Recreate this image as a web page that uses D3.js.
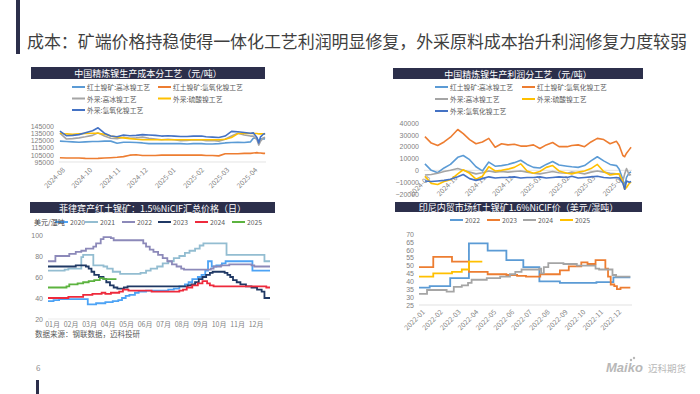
<!DOCTYPE html>
<html>
<head>
<meta charset="utf-8">
<script src="https://cdn.jsdelivr.net/npm/d3@7"></script>
<style>
  body { margin: 0; background: #fff; }
  svg { display: block; font-family: "Noto Sans CJK SC", "Noto Sans", sans-serif; }
</style>
</head>
<body>
<svg id="slide" width="700" height="394"></svg>
<script>
// ---- data: China refined nickel cost / profit by process (yuan/t) ----
const topDates = ['2024-09-02','2024-09-09','2024-09-16','2024-09-23','2024-09-30','2024-10-08','2024-10-14','2024-10-21','2024-10-28','2024-11-04','2024-11-11','2024-11-18','2024-11-25','2024-12-02','2024-12-09','2024-12-16','2024-12-23','2024-12-30','2025-01-06','2025-01-13','2025-01-20','2025-01-27','2025-02-05','2025-02-10','2025-02-17','2025-02-24','2025-03-03','2025-03-10','2025-03-17','2025-03-24','2025-03-31','2025-04-03','2025-04-07','2025-04-09','2025-04-11','2025-04-14','2025-04-16'];
const topTickDates = ['2024-09-01','2024-10-01','2024-11-01','2024-12-01','2025-01-01','2025-02-01','2025-03-01','2025-04-01'];
const topTickLabels = ['2024-08','2024-10','2024-11','2024-12','2025-01','2025-02','2025-03','2025-04'];
const processNames = ['红土镍矿:高冰镍工艺','红土镍矿:氢氧化镍工艺','外采:高冰镍工艺','外采:硫酸镍工艺','外采:氢氧化镍工艺'];

const costLateriteMatte = [124000,123500,123000,122500,123000,123500,123500,124000,124000,121000,122500,122500,122000,121500,120500,120500,120500,120500,120500,120500,120000,120500,120500,120000,120000,120500,121500,122000,122500,122000,123000,128000,128000,124000,127000,127500,127000];
const costLateriteMhp = [101000,100500,100500,100500,100000,99800,100000,100500,101000,101500,102500,104500,105000,104000,104000,104000,104500,104500,104500,104500,104500,104500,104500,104000,104000,103500,106500,106500,106500,107000,107000,107500,108000,107500,107500,107000,107000];
const costBuyMatte = [135000,127000,127500,128500,130000,132000,135500,131000,128000,127500,129500,128000,128500,129500,128000,127000,126000,126500,126000,124500,125000,126000,125500,124500,125000,124000,126500,131000,135000,132500,131000,131000,126000,118500,124000,128500,129500];
const costBuySulfate = [135000,134000,133500,134000,134500,135000,135000,133500,131000,129500,128500,127500,126500,126000,126000,126000,126000,126000,126000,126000,126000,126000,126000,126000,126000,126000,126500,129000,134500,134500,134500,134500,134500,134000,134000,134000,134000];
const costBuyMhp = [138000,131500,132000,133000,135500,138500,142500,135000,131000,130000,132500,131500,132000,133000,132500,132000,131000,131500,131000,130500,130500,131000,131000,130000,129500,129000,131000,137500,137000,136000,135000,135500,129000,121500,130000,133500,134500];

const profitLateriteMatte = [5500,0,-2000,2000,5000,11000,12500,9000,3000,-500,7000,3500,4000,5000,6500,8500,5000,2500,2000,5000,7500,4500,3500,3000,2500,4000,8000,11500,8000,5000,4000,1000,-8000,-13000,-6000,-2000,-1500];
const profitLateriteMhp = [28500,23000,21000,24000,28000,34500,31000,26000,22500,24000,27000,19500,22500,21500,22000,20500,20500,21500,18500,21500,23500,20000,20000,21000,21500,20000,24000,27000,26000,22500,24500,21000,12500,11500,14500,17500,19500];
const profitBuyMatte = [-4000,-3500,-2500,-1000,0,1500,0,-1500,-3000,-2000,-500,-1500,-1000,-1500,-1000,-500,-1500,-2500,-3000,-2000,-1000,-2000,-2500,-1500,-2000,-3000,-1500,-500,-1500,-2500,-3000,-3500,-9000,-3000,1500,-4000,-3500];
const profitBuySulfate = [-5000,-11000,-12000,-9500,-8000,-3000,500,-2500,-7500,-5000,3000,-500,0,1000,2500,5500,-500,-2500,-1000,2500,4000,-500,-2500,-3000,-1500,-500,1500,5000,-1000,-4000,-3000,-3000,-10000,-16000,-14500,-11000,-10000];
const profitBuyMhp = [-9000,-9500,-9000,-8500,-7500,-5500,-3500,-7000,-8500,-7000,-5500,-6500,-6000,-6000,-5500,-6500,-6000,-6000,-5500,-6500,-6000,-5500,-6000,-5000,-6500,-6000,-5500,-5000,-6000,-6500,-6000,-6500,-11000,-16000,-9000,-10000,-9500];

// ---- Philippine laterite 1.5% CIF (USD/wet t), [month, price] ----
const phYears = ['2020','2021','2022','2023','2024','2025'];
const ph2020 = [[1,37],[1.3,38],[1.6,39],[3.15,34],[3.6,35],[4.1,36],[4.5,37],[4.8,38],[5.0,40],[5.2,42],[5.4,43],[5.7,45],[5.9,46],[6.3,47],[7.5,48],[7.8,49],[8.1,51],[8.4,53],[8.6,55],[8.8,58],[9.1,60],[9.3,62],[9.5,66],[9.65,75],[9.85,70],[10.1,71],[10.4,73],[10.6,75],[11.95,75],[12.05,66],[13,66]];
const ph2021 = [[1,66],[1.9,67],[2.1,68],[2.8,79],[2.9,81],[3.45,71],[4.0,70],[4.2,68],[4.5,65],[4.9,63],[6.0,64],[6.3,66],[6.55,68],[6.9,70],[7.2,73],[7.5,75],[7.8,78],[8.1,80],[8.4,83],[8.65,85],[8.95,87],[9.2,90],[9.4,92],[10.65,81],[12.7,75],[13,75]];
const ph2022 = [[1,75],[1.4,80],[2.15,82],[2.5,84],[2.8,85],[3.05,87],[3.45,89],[3.6,92],[3.85,96],[4.0,98],[4.4,97],[4.55,95],[6.15,92],[6.3,89],[6.5,86],[6.7,84],[6.95,81],[7.2,78],[7.45,75],[7.7,72],[7.95,70],[8.2,68],[8.35,67],[9.8,68],[9.95,70],[10.35,71],[10.8,72],[12.0,71],[12.15,70],[13,70]];
const ph2023 = [[1,70],[2.5,71],[3.05,70],[3.2,68],[3.35,65],[3.5,62],[3.75,60],[4.0,58],[4.15,55],[4.35,52],[4.55,50],[4.75,49],[5.1,50],[5.3,51],[8.55,52],[8.75,53],[8.95,55],[9.15,58],[9.35,60],[9.55,62],[9.75,64],[9.9,65],[10.55,64],[10.7,62],[10.85,60],[11.0,57],[11.2,55],[11.4,53],[11.7,51],[12.0,50],[12.3,48],[12.55,46],[12.7,40],[13,40]];
const ph2024 = [[1,40],[2.1,41],[2.9,43],[3.4,44],[3.9,45],[4.1,44],[4.4,45],[4.85,46],[5.05,48],[5.35,47],[6.6,46],[8.1,47],[8.3,48],[8.5,50],[8.8,52],[9.1,54],[9.35,56],[9.6,54],[9.75,52],[9.95,51],[12.8,50],[13,50]];
const ph2025 = [[1,50],[1.5,50],[2.0,51],[2.15,53],[2.6,54],[2.9,55],[3.2,56],[3.5,57],[3.8,59],[4.0,58],[4.7,58]];
const monthLabels = ['01月','02月','03月','04月','05月','06月','07月','08月','09月','10月','11月','12月'];

// ---- Indonesia domestic laterite 1.6% CIF (USD/wet t), [month, price] ----
const idYears = ['2022','2023','2024','2025'];
const id2022 = [[1,36],[1.6,37],[2.75,42],[3.8,64],[4.85,59.5],[5.9,53.5],[6.85,49],[7.75,40],[8.9,39],[10.95,39.5],[11.9,42.5],[12.85,42.5]];
const id2023 = [[1,49],[1.8,55.5],[2.85,52.5],[3.8,46],[4.85,44.5],[5.9,44],[6.5,43.5],[7.0,43],[7.8,44.5],[8.9,47],[9.4,49.5],[10.1,52],[10.45,51],[10.9,53.5],[11.45,48],[11.6,43],[11.75,38],[11.95,37],[12.1,35],[12.3,36],[12.85,36]];
const id2024 = [[1,32],[1.45,34.5],[2.55,33.5],[2.95,36.5],[3.4,37.5],[3.75,39],[3.95,41],[4.8,42],[5.55,43],[6.1,44.5],[6.4,46],[6.75,47.5],[7.75,48],[7.85,45],[8.0,49],[8.25,51.5],[9.1,51],[9.85,50],[10.9,48],[11.1,47.5],[11.85,44],[12.05,43],[12.85,43]];
const id2025 = [[1,43],[1.8,45],[2.85,46],[3.4,47.5],[3.8,52.5],[4.55,52.5]];
const idTickLabels = ['2022-01','2022-02','2022-03','2022-04','2022-05','2022-06','2022-07','2022-08','2022-09','2022-10','2022-11','2022-12'];

// ---- styling ----
const NAVY = '#2c2f4b';
const AXIS_TEXT = '#7f7f7f';
const processColors = ['#5b9bd5', '#ed7d31', '#a5a5a5', '#ffc000', '#4472c4'];
const phColors = ['#4da3f5', '#93bdd1', '#8c89b9', '#1f3864', '#ee2a3c', '#5cb33f'];
const idColors = ['#5b9bd5', '#ed7d31', '#a5a5a5', '#ffc000'];

const svg = d3.select('#slide');
const parseDate = d3.timeParse('%Y-%m-%d');

// ---- slide header / footer ----
svg.append('rect').attr('x', 16).attr('y', 0).attr('width', 4).attr('height', 54).attr('fill', NAVY);
svg.append('text')
  .attr('x', 27).attr('y', 48)
  .attr('font-size', 17).attr('fill', '#3f3f3f')
  .attr('textLength', 660).attr('lengthAdjust', 'spacing')
  .text('成本：矿端价格持稳使得一体化工艺利润明显修复，外采原料成本抬升利润修复力度较弱');

svg.append('text').attr('x', 36).attr('y', 371).attr('font-size', 8).attr('fill', '#8c8c8c').text('6');
svg.append('rect').attr('x', 36).attr('y', 380).attr('width', 3).attr('height', 14).attr('fill', NAVY);

const logo = svg.append('g').attr('fill', '#b8b8b8');
logo.append('text').attr('x', 606).attr('y', 372)
  .attr('font-size', 13).attr('font-weight', 'bold').attr('font-style', 'italic')
  .attr('font-family', 'Liberation Sans, Arial, sans-serif').text('Maiko');
logo.append('circle').attr('cx', 631).attr('cy', 360).attr('r', 1.2);
logo.append('circle').attr('cx', 634).attr('cy', 358).attr('r', 1.2);
logo.append('text').attr('x', 648).attr('y', 372).attr('font-size', 9.5).text('迈科期货');

// ---- helpers ----
function titleBar(x, y, w, h, label) {
  svg.append('rect').attr('x', x).attr('y', y).attr('width', w).attr('height', h).attr('fill', NAVY);
  svg.append('text')
    .attr('x', x + w / 2).attr('y', y + h / 2 + 0.5)
    .attr('text-anchor', 'middle').attr('dominant-baseline', 'central')
    .attr('font-size', 9).attr('fill', '#fff')
    .text(label);
}

function legendItem(x, y, color, label, width) {
  svg.append('line')
    .attr('x1', x).attr('x2', x + (width || 13)).attr('y1', y).attr('y2', y)
    .attr('stroke', color).attr('stroke-width', 2);
  svg.append('text')
    .attr('x', x + (width || 13) + 2).attr('y', y)
    .attr('dominant-baseline', 'central')
    .attr('font-size', 6.8).attr('fill', '#595959')
    .text(label);
}

function yAxis(scale, x, ticks) {
  const g = svg.append('g')
    .attr('transform', `translate(${x},0)`)
    .call(d3.axisLeft(scale).tickValues(ticks).tickSize(0).tickPadding(3).tickFormat(d3.format('d')));
  g.select('.domain').remove();
  g.selectAll('text').attr('font-size', 7).attr('fill', AXIS_TEXT).attr('font-family', null);
}

function rotatedLabels(positions, labels, y) {
  svg.append('g').selectAll('text')
    .data(labels)
    .join('text')
    .attr('transform', (d, i) => `translate(${positions[i] + 2},${y}) rotate(-45)`)
    .attr('text-anchor', 'end')
    .attr('dominant-baseline', 'hanging')
    .attr('font-size', 7).attr('fill', AXIS_TEXT)
    .text((d) => d);
}

// ---- top-left: cost by process ----
function costChart() {
  titleBar(31, 67, 234, 12, '中国精炼镍生产成本分工艺（元/吨）');
  const legendPos = [[72, 87], [158, 87], [72, 98.5], [158, 98.5], [72, 110]];
  processNames.forEach((n, i) => legendItem(legendPos[i][0], legendPos[i][1], processColors[i], n));

  const x = d3.scaleTime()
    .domain([parseDate('2024-09-01'), parseDate('2025-04-17')])
    .range([59, 266]);
  const y = d3.scaleLinear().domain([95000, 145000]).range([162, 126]);

  yAxis(y, 57, d3.range(95000, 145001, 10000));
  svg.append('line').attr('x1', 59).attr('x2', 266).attr('y1', y(95000)).attr('y2', y(95000))
    .attr('stroke', '#d9d9d9').attr('stroke-width', 0.7);
  rotatedLabels(topTickDates.map((d) => x(parseDate(d))), topTickLabels, 166);

  const series = [costLateriteMatte, costLateriteMhp, costBuyMatte, costBuySulfate, costBuyMhp];
  const line = d3.line().x((d, i) => x(parseDate(topDates[i]))).y((d) => y(d));
  series.forEach((s, i) => {
    svg.append('path').datum(s).attr('d', line)
      .attr('fill', 'none').attr('stroke', processColors[i]).attr('stroke-width', 1.6)
      .attr('stroke-linejoin', 'round');
  });
}

// ---- top-right: profit by process ----
function profitChart() {
  titleBar(393, 68, 250, 11, '中国精炼镍生产利润分工艺（元/吨）');
  const legendPos = [[435, 87], [522, 87], [435, 99], [522, 99], [435, 111]];
  processNames.forEach((n, i) => legendItem(legendPos[i][0], legendPos[i][1], processColors[i], n));

  const x = d3.scaleTime()
    .domain([parseDate('2024-09-01'), parseDate('2025-04-17')])
    .range([424, 632]);
  const y = d3.scaleLinear().domain([-20000, 40000]).range([194, 123]);

  yAxis(y, 422, d3.range(-20000, 40001, 10000));
  svg.append('line').attr('x1', 424).attr('x2', 632).attr('y1', y(0)).attr('y2', y(0))
    .attr('stroke', '#d9d9d9').attr('stroke-width', 0.7);
  rotatedLabels(topTickDates.map((d) => x(parseDate(d))), topTickLabels, 174);

  const series = [profitLateriteMatte, profitLateriteMhp, profitBuyMatte, profitBuySulfate, profitBuyMhp];
  const line = d3.line().x((d, i) => x(parseDate(topDates[i]))).y((d) => y(d));
  series.forEach((s, i) => {
    svg.append('path').datum(s).attr('d', line)
      .attr('fill', 'none').attr('stroke', processColors[i]).attr('stroke-width', 1.6)
      .attr('stroke-linejoin', 'round');
  });
}

// ---- bottom-left: Philippine ore price by year ----
function philippineChart() {
  titleBar(30, 202, 245, 11, '菲律宾产红土镍矿：1.5%NiCIF汇总价格（日）');

  const legendX = [55, 85, 122, 158, 195, 232];
  phYears.forEach((yr, i) => legendItem(legendX[i], 222, phColors[i], yr));
  svg.append('text').attr('x', 34).attr('y', 222).attr('dominant-baseline', 'central')
    .attr('font-size', 7).attr('fill', '#404040').text('美元/湿吨');

  const x = d3.scaleLinear().domain([1, 13]).range([48, 270]);
  const y = d3.scaleLinear().domain([20, 100]).range([319, 235]);

  yAxis(y, 46, [20, 40, 60, 80, 100]);
  svg.append('line').attr('x1', 48).attr('x2', 270).attr('y1', y(20)).attr('y2', y(20))
    .attr('stroke', '#e3e3e3').attr('stroke-width', 0.7);

  svg.append('g').selectAll('text')
    .data(monthLabels)
    .join('text')
    .attr('x', (d, i) => x(i + 1.25))
    .attr('y', 327)
    .attr('text-anchor', 'middle')
    .attr('font-size', 7).attr('fill', AXIS_TEXT)
    .text((d) => d);

  const series = [ph2020, ph2021, ph2022, ph2023, ph2024, ph2025];
  const line = d3.line().x((d) => x(d[0])).y((d) => y(d[1])).curve(d3.curveStepAfter);
  series.forEach((s, i) => {
    svg.append('path').datum(s).attr('d', line)
      .attr('fill', 'none').attr('stroke', phColors[i]).attr('stroke-width', 1.8);
  });

  svg.append('text').attr('x', 35).attr('y', 337)
    .attr('font-size', 7.5).attr('fill', '#595959')
    .text('数据来源：钢联数据，迈科投研');
}

// ---- bottom-right: Indonesia domestic ore price by year ----
function indonesiaChart() {
  titleBar(395, 202, 247, 10, '印尼内贸市场红土镍矿1.6%NiCIF价（美元/湿吨）');

  const legendX = [450, 487, 523, 560];
  idYears.forEach((yr, i) => legendItem(legendX[i], 220, idColors[i], yr));

  const x = d3.scaleLinear().domain([1, 13]).range([419, 633]);
  const y = d3.scaleLinear().domain([25, 70]).range([305, 234]);

  yAxis(y, 417, d3.range(25, 71, 5));
  svg.append('line').attr('x1', 419).attr('x2', 632).attr('y1', y(25)).attr('y2', y(25))
    .attr('stroke', '#d9d9d9').attr('stroke-width', 0.8);
  rotatedLabels(idTickLabels.map((d, i) => x(i + 1)), idTickLabels, 308);

  const series = [id2022, id2023, id2024, id2025];
  const line = d3.line().x((d) => x(d[0])).y((d) => y(d[1])).curve(d3.curveStepAfter);
  series.forEach((s, i) => {
    svg.append('path').datum(s).attr('d', line)
      .attr('fill', 'none').attr('stroke', idColors[i]).attr('stroke-width', 1.8);
  });
}

costChart();
profitChart();
philippineChart();
indonesiaChart();
</script>
</body>
</html>
